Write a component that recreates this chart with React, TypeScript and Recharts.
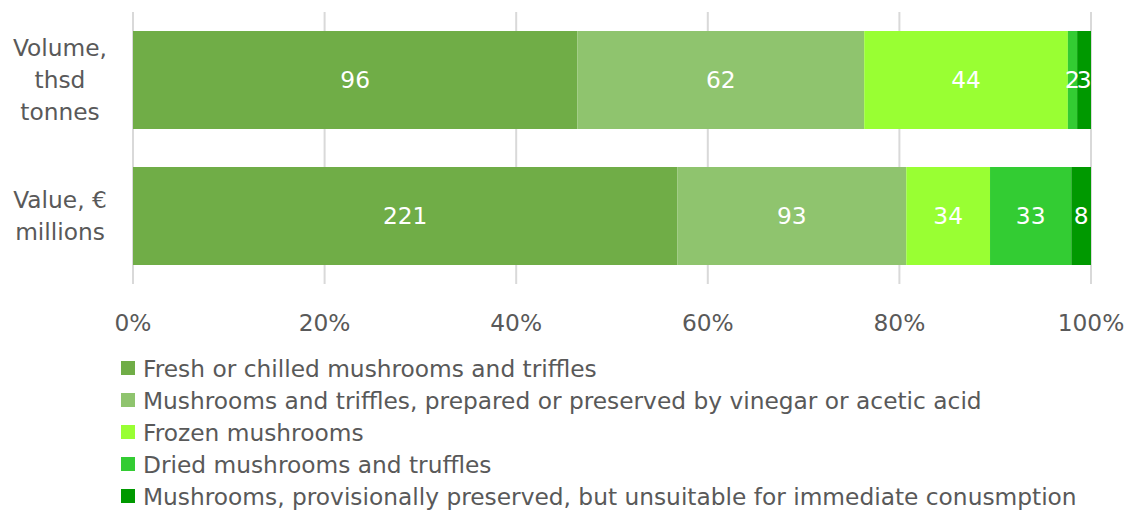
import React from 'react';
import { BarChart, Bar, XAxis, YAxis, CartesianGrid, LabelList } from 'recharts';

const categories = ['Volume, thsd tonnes', 'Value, € millions'];
const categoryLines = [['Volume,', 'thsd', 'tonnes'], ['Value, €', 'millions']];
const seriesNames = [
  'Fresh or chilled mushrooms and triffles',
  'Mushrooms and triffles, prepared or preserved by vinegar or acetic acid',
  'Frozen mushrooms',
  'Dried mushrooms and truffles',
  'Mushrooms, provisionally preserved, but unsuitable for immediate conusmption',
];
const fresh = [96, 221];
const prepared = [62, 93];
const frozen = [44, 34];
const dried = [2, 33];
const provisional = [3, 8];
const xTicks = [0, 0.2, 0.4, 0.6, 0.8, 1];
const colors = ['#70AD47', '#8FC46E', '#99FF33', '#33CC33', '#009900'];

const seriesValues = [fresh, prepared, frozen, dried, provisional];
const keys = ['s0', 's1', 's2', 's3', 's4'];
const data = categories.map((c, i) => {
  const row: any = { name: c, idx: i };
  keys.forEach((k, j) => (row[k] = seriesValues[j][i]));
  return row;
});

const FONT = 'Tahoma, "DejaVu Sans", Verdana, sans-serif';
const TEXT = '#595959';
const FS = 23.3;

const YTick = (props: any) => {
  const { y, payload } = props;
  const idx = categories.indexOf(payload.value);
  const lines = categoryLines[idx] || [payload.value];
  const lh = 32;
  const start = y - ((lines.length - 1) * lh) / 2;
  return (
    <text x={60} y={start} textAnchor="middle" fill={TEXT} fontSize={FS} fontFamily={FONT}>
      {lines.map((l, i) => (
        <tspan key={i} x={60} y={start + i * lh} dy="0.35em">{l}</tspan>
      ))}
    </text>
  );
};

const LegendBlock = () => (
  <div style={{ position: 'absolute', left: 121, top: 352, fontFamily: FONT, fontSize: FS, color: TEXT }}>
    {seriesNames.map((n, i) => (
      <div key={i} style={{ display: 'flex', alignItems: 'center', height: 32, whiteSpace: 'nowrap' }}>
        <span style={{ display: 'inline-block', width: 14, height: 14, background: colors[i], marginRight: 8 }} />
        <span>{n}</span>
      </div>
    ))}
  </div>
);

export default function App() {
  return (
    <div style={{ position: 'absolute', left: 0, top: 0, width: 1128, height: 510, background: '#fff' }}>
      <BarChart
        width={1128}
        height={510}
        data={data}
        layout="vertical"
        stackOffset="expand"
        margin={{ top: 12, right: 37, bottom: 0, left: 0 }}
        barCategoryGap="14%"
      >
        <CartesianGrid horizontal={false} stroke="#D9D9D9" strokeWidth={2} />
        <XAxis
          type="number"
          domain={[0, 1]}
          ticks={xTicks}
          tickFormatter={(v: number) => `${Math.round(v * 100)}%`}
          axisLine={false}
          tickLine={false}
          tick={{ fill: TEXT, fontSize: FS, fontFamily: FONT }}
          tickMargin={24}
          interval={0}
          height={226}
        />
        <YAxis
          type="category"
          dataKey="name"
          width={133}
          axisLine={false}
          tickLine={false}
          tick={<YTick />}
          interval={0}
        />
        {keys.map((k, i) => (
          <Bar key={k} dataKey={k} stackId="a" fill={colors[i]} isAnimationActive={false} name={seriesNames[i]}>
            <LabelList dataKey={k} position="center" fill="#FFFFFF" fontSize={FS} fontFamily={FONT} />
          </Bar>
        ))}
      </BarChart>
      <LegendBlock />
    </div>
  );
}
